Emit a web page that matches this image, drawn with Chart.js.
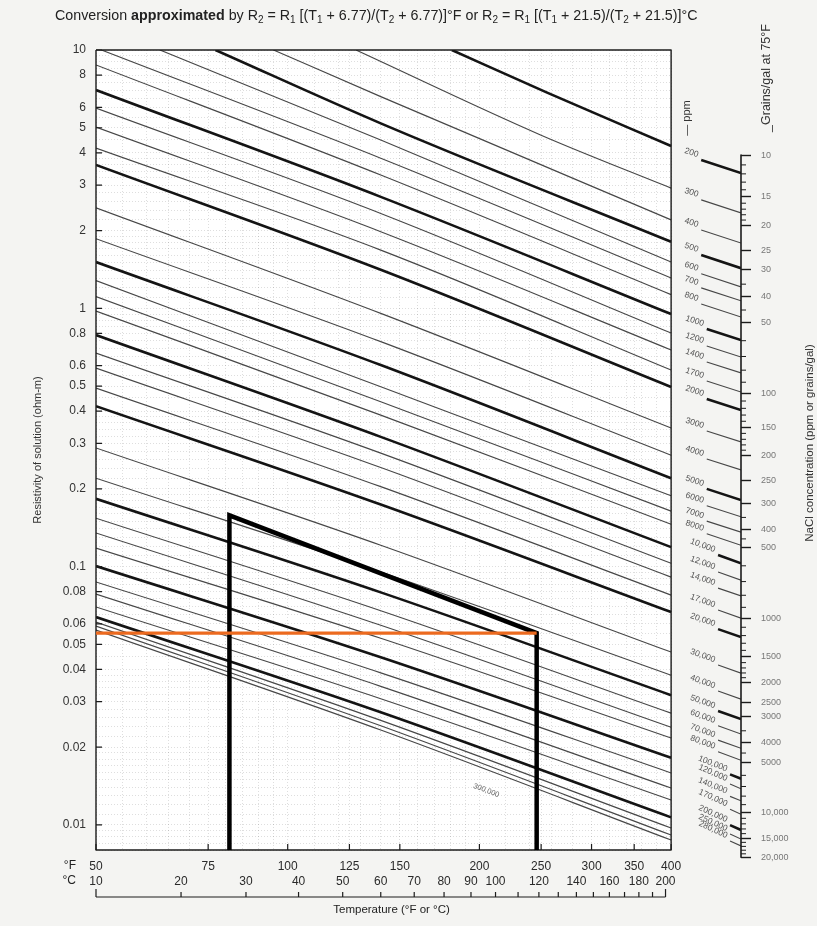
<!DOCTYPE html>
<html>
<head>
<meta charset="utf-8">
<title>Resistivity of NaCl solutions</title>
<script src="https://cdn.jsdelivr.net/npm/chart.js@4.4.1/dist/chart.umd.min.js"></script>
<style>
  html, body { margin: 0; padding: 0; background: #f4f4f2; }
  canvas { display: block; }
</style>
</head>
<body>
<canvas id="chart" width="817" height="926"></canvas>
<script>
// axis ranges: temperature in °F (x), resistivity in ohm-m (y)
const T_MIN = 50;
const T_FRAME = 400;
const T_NOMO = 515;   // x position of the concentration scale on the right
const R_MIN = 0.008;
const R_MAX = 10;

const F_TICKS = [50, 75, 100, 125, 150, 200, 250, 300, 350, 400];
const F_GRID = [55, 60, 65, 70, 80, 85, 90, 95, 110, 120, 130, 140, 160, 170, 180, 190, 220, 240, 260, 280, 320, 340, 360, 380];
const C_LABELS = [10, 20, 30, 40, 50, 60, 70, 80, 90, 100, 120, 140, 160, 180, 200];
const C_MARKS = [10, 20, 30, 40, 50, 60, 70, 80, 90, 100, 110, 120, 130, 140, 150, 160, 170, 180, 190, 200];
const R_TICKS = [10, 8, 6, 5, 4, 3, 2, 1, 0.8, 0.6, 0.5, 0.4, 0.3, 0.2, 0.1, 0.08, 0.06, 0.05, 0.04, 0.03, 0.02, 0.01];
const R_GRID_MANTISSA = [1, 1.1, 1.2, 1.3, 1.4, 1.5, 1.6, 1.7, 1.8, 1.9, 2, 2.2, 2.4, 2.6, 2.8, 3, 3.2, 3.4, 3.6, 3.8, 4, 4.5, 5, 5.5, 6, 6.5, 7, 7.5, 8, 8.5, 9, 9.5];

// NaCl concentration lines (ppm)
const ppmLabels = ['200', '300', '400', '500', '600', '700', '800', '1000', '1200', '1400', '1700', '2000',
  '3000', '4000', '5000', '6000', '7000', '8000', '10,000', '12,000', '14,000', '17,000', '20,000',
  '30,000', '40,000', '50,000', '60,000', '70,000', '80,000', '100,000', '120,000', '140,000',
  '170,000', '200,000', '250,000', '280,000', '300,000'];
const boldLines = ['200', '500', '1000', '2000', '5000', '10,000', '20,000', '50,000', '100,000', '200,000'];

// each line read at three points: start (left edge or top edge), middle, end (400 °F)
const lineStartT = [181, 128, 95, 77, 63, 51, 50, 50, 50, 50, 50, 50, 50, 50, 50, 50, 50, 50, 50, 50, 50, 50, 50,
  50, 50, 50, 50, 50, 50, 50, 50, 50, 50, 50, 50, 50, 50];
const lineStartR = [10, 10, 10, 10, 10, 10, 8.75, 7.00, 5.96, 5.03, 4.17, 3.59, 2.45, 1.86, 1.51, 1.28, 1.11, 0.976,
  0.788, 0.671, 0.587, 0.491, 0.418, 0.288, 0.220, 0.183, 0.154, 0.135, 0.118, 0.1005, 0.0872, 0.0783,
  0.0698, 0.0638, 0.0610, 0.0589, 0.0568];
const lineMidT = [256, 250, 140, 140, 140, 140, 140, 140, 140, 140, 140, 140, 140, 140, 140, 140, 140, 140, 140,
  140, 140, 140, 140, 140, 140, 140, 140, 140, 140, 140, 140, 140, 140, 140, 140, 140, 140];
const lineMidR = [6.82, 4.68, 6.60, 5.20, 4.48, 3.81, 3.28, 2.70, 2.33, 1.98, 1.68, 1.41, 0.956, 0.743, 0.603, 0.497,
  0.435, 0.386, 0.318, 0.275, 0.242, 0.204, 0.174, 0.121, 0.0954, 0.0795, 0.0675, 0.0593, 0.0528, 0.0446,
  0.0388, 0.0344, 0.0308, 0.0273, 0.0254, 0.0242, 0.0233];
const lineEndT = 400;
const lineEndR = [4.25, 2.92, 2.20, 1.81, 1.51, 1.31, 1.13, 0.950, 0.802, 0.690, 0.577, 0.496, 0.344, 0.270, 0.220,
  0.188, 0.164, 0.146, 0.119, 0.103, 0.0911, 0.0776, 0.0667, 0.0467, 0.0380, 0.0318, 0.0271, 0.0239, 0.0217,
  0.0182, 0.0159, 0.0139, 0.0125, 0.0107, 0.00973, 0.00914, 0.00874];

// short ppm markers running into the concentration scale (200 ... 280,000)
const nomoStartT = [446, 446, 446, 446, 446, 446, 446, 455, 455, 455, 455, 455, 455, 455, 455, 455, 455, 455,
  474, 474, 474, 474, 474, 474, 474, 474, 474, 474, 474, 495, 495, 495, 495, 495, 495, 495];
const nomoStartR = [3.75, 2.63, 2.01, 1.61, 1.36, 1.20, 1.04, 0.832, 0.715, 0.620, 0.523, 0.446, 0.335, 0.261, 0.200,
  0.172, 0.150, 0.134, 0.111, 0.0953, 0.0826, 0.0679, 0.0573, 0.0416, 0.0330, 0.0276, 0.0242, 0.0213, 0.0192,
  0.0157, 0.0144, 0.0129, 0.0115, 0.00999, 0.00922, 0.00867];
const nomoEndR = [3.34, 2.34, 1.79, 1.43, 1.21, 1.07, 0.925, 0.754, 0.648, 0.562, 0.474, 0.404, 0.304, 0.237, 0.181,
  0.156, 0.136, 0.121, 0.103, 0.0887, 0.0770, 0.0632, 0.0534, 0.0387, 0.0307, 0.0257, 0.0225, 0.0198, 0.0178,
  0.0151, 0.0138, 0.0124, 0.0110, 0.00956, 0.00882, 0.00829];

// grains/gal scale: labelled ticks and where they sit on the resistivity axis
const grainsLabels = ['10', '15', '20', '25', '30', '40', '50', '100', '150', '200', '250', '300', '400', '500',
  '1000', '1500', '2000', '2500', '3000', '4000', '5000', '10,000', '15,000', '20,000'];
const grainsValue = [10, 15, 20, 25, 30, 40, 50, 100, 150, 200, 250, 300, 400, 500, 1000, 1500, 2000, 2500, 3000,
  4000, 5000, 10000, 15000, 20000];
const grainsR = [3.92, 2.70, 2.10, 1.68, 1.41, 1.11, 0.885, 0.470, 0.347, 0.270, 0.216, 0.176, 0.139, 0.119,
  0.0632, 0.0447, 0.0357, 0.0299, 0.0262, 0.0208, 0.0175, 0.0112, 0.0089, 0.0075];
const grainsMinor = [11, 12, 13, 14, 16, 17, 18, 19, 35, 45, 60, 70, 80, 90, 110, 120, 130, 140, 160, 170, 180, 190,
  350, 450, 600, 700, 800, 900, 1100, 1200, 1300, 1400, 1600, 1700, 1800, 1900, 3500, 4500, 6000, 7000, 8000,
  9000, 11000, 12000, 13000, 14000, 16000, 17000, 18000, 19000];

// worked example drawn on top
const exampleT = [81, 81, 246, 246];
const exampleR = [R_MIN, 0.158, 0.0553, R_MIN];
const orangeT = [50, 246];
const orangeR = [0.0553, 0.0553];
const innerLabel = { text: '300,000', t: 205, r: 0.0136 };

const FONT = "'Liberation Sans', Arial, Helvetica, sans-serif";
const PAGE_BG = '#f4f4f2';
const TITLE_WIDTH = 643;
Chart.defaults.font.family = FONT;

const cToF = c => c * 9 / 5 + 32;
const xTickValues = [...F_TICKS, ...F_GRID].sort((a, b) => a - b);
const yTickValues = [];
for (let d = -3; d <= 0; d++) {
  R_GRID_MANTISSA.forEach(m => {
    const v = Number((m * Math.pow(10, d)).toPrecision(4));
    if (v >= R_MIN && v < R_MAX) yTickValues.push(v);
  });
}
yTickValues.push(R_MAX);

// position of an unlabelled grains/gal tick between two labelled ones (log-log)
function grainsToR(g) {
  for (let i = 0; i < grainsValue.length - 1; i++) {
    const g0 = grainsValue[i], g1 = grainsValue[i + 1];
    if (g >= g0 && g <= g1) {
      const f = Math.log(g / g0) / Math.log(g1 / g0);
      return Math.exp(Math.log(grainsR[i]) + f * Math.log(grainsR[i + 1] / grainsR[i]));
    }
  }
  return null;
}

const isBold = lab => boldLines.includes(lab);

const curveSets = ppmLabels.map((lab, i) => ({
  label: lab + ' ppm',
  data: [
    { x: lineStartT[i], y: lineStartR[i] },
    { x: lineMidT[i], y: lineMidR[i] },
    { x: lineEndT, y: lineEndR[i] }
  ],
  borderColor: isBold(lab) ? '#141414' : '#474747',
  borderWidth: isBold(lab) ? 2.6 : 1.15,
  cubicInterpolationMode: 'monotone',
  order: 5
}));

function nomoData(bold) {
  const out = [];
  nomoEndR.forEach((r, i) => {
    if (isBold(ppmLabels[i]) !== bold) return;
    out.push({ x: nomoStartT[i], y: nomoStartR[i] }, { x: T_NOMO, y: r }, { x: T_NOMO, y: null });
  });
  return out;
}

const datasets = [
  ...curveSets,
  { label: 'ppm markers', data: nomoData(false), borderColor: '#474747', borderWidth: 1.15, order: 4 },
  { label: 'ppm markers bold', data: nomoData(true), borderColor: '#141414', borderWidth: 2.6, order: 4 },
  {
    label: 'grains scale',
    data: [{ x: T_NOMO, y: grainsR[0] }, { x: T_NOMO, y: grainsR[grainsR.length - 1] }],
    borderColor: '#1c1c1c', borderWidth: 1.6, clip: false, order: 3
  },
  {
    label: 'frame',
    data: [{ x: T_MIN, y: R_MAX }, { x: T_FRAME, y: R_MAX }, { x: T_FRAME, y: R_MIN },
      { x: T_MIN, y: R_MIN }, { x: T_MIN, y: R_MAX }],
    borderColor: '#1c1c1c', borderWidth: 1.4, clip: false, order: 3
  },
  {
    label: 'example',
    data: exampleT.map((t, i) => ({ x: t, y: exampleR[i] })),
    borderColor: '#000000', borderWidth: 4.5, borderJoinStyle: 'miter', order: 1
  },
  {
    label: 'example level',
    data: orangeT.map((t, i) => ({ x: t, y: orangeR[i] })),
    borderColor: '#ec6a1f', borderWidth: 3.2, clip: false, order: 0
  }
];

function drawTitle(ctx, x, y) {
  const parts = [
    ['Conversion ', 'n'], ['approximated', 'b'], [' by R', 'n'], ['2', 's'], [' = R', 'n'], ['1', 's'],
    [' [(T', 'n'], ['1', 's'], [' + 6.77)/(T', 'n'], ['2', 's'], [' + 6.77)]°F or R', 'n'], ['2', 's'],
    [' = R', 'n'], ['1', 's'], [' [(T', 'n'], ['1', 's'], [' + 21.5)/(T', 'n'], ['2', 's'], [' + 21.5)]°C', 'n']
  ];
  const fontFor = (k, size) => k === 'b' ? `bold ${size}px ${FONT}` : k === 's' ? `${size * 0.7}px ${FONT}` : `${size}px ${FONT}`;
  // size the line so it spans the same width as the printed one
  let w = 0;
  parts.forEach(([txt, k]) => { ctx.font = fontFor(k, 12); w += ctx.measureText(txt).width; });
  const size = 12 * TITLE_WIDTH / w;
  ctx.textAlign = 'left';
  ctx.textBaseline = 'alphabetic';
  let cx = x;
  parts.forEach(([txt, k]) => {
    ctx.font = fontFor(k, size);
    ctx.fillText(txt, cx, k === 's' ? y + 3 : y);
    cx += ctx.measureText(txt).width;
  });
}

function rotatedText(ctx, text, x, y, angle, font, color, align) {
  ctx.save();
  ctx.translate(x, y);
  ctx.rotate(angle);
  ctx.font = font;
  ctx.fillStyle = color;
  ctx.textAlign = align || 'center';
  ctx.textBaseline = 'middle';
  ctx.fillText(text, 0, 0);
  ctx.restore();
}

const decorPlugin = {
  id: 'decor',
  beforeDraw(chart) {
    const { ctx, scales: { x, y } } = chart;
    ctx.save();
    ctx.fillStyle = PAGE_BG;
    ctx.fillRect(0, 0, chart.width, chart.height);
    const xl = x.getPixelForValue(T_MIN), xr = x.getPixelForValue(T_FRAME);
    const yt = y.getPixelForValue(R_MAX), yb = y.getPixelForValue(R_MIN);
    ctx.fillStyle = '#ffffff';
    ctx.fillRect(xl, yt, xr - xl, yb - yt);
    ctx.restore();
  },
  beforeDatasetsDraw(chart) {
    // keep the grid inside the 50-400 °F frame
    const { ctx, chartArea: a, scales: { x } } = chart;
    const xr = x.getPixelForValue(T_FRAME);
    ctx.save();
    ctx.fillStyle = PAGE_BG;
    ctx.fillRect(xr + 1, a.top - 2, a.right - xr - 1, a.bottom - a.top + 4);
    ctx.restore();
  },
  afterDraw(chart) {
    const { ctx, chartArea: a, scales: { x, y } } = chart;
    const xl = x.getPixelForValue(T_MIN), xr = x.getPixelForValue(T_FRAME);
    const yb = y.getPixelForValue(R_MIN);
    ctx.save();

    // tick marks on the frame
    ctx.strokeStyle = '#1c1c1c';
    ctx.lineWidth = 1.2;
    ctx.beginPath();
    F_TICKS.forEach(t => {
      const p = x.getPixelForValue(t);
      ctx.moveTo(p, yb); ctx.lineTo(p, yb - 6);
    });
    R_TICKS.forEach(r => {
      const p = y.getPixelForValue(r);
      ctx.moveTo(xl, p); ctx.lineTo(xl + 6, p);
    });
    ctx.stroke();

    // °C scale line under the labels
    const cy = yb + 47;
    ctx.beginPath();
    ctx.moveTo(x.getPixelForValue(cToF(C_MARKS[0])), cy);
    ctx.lineTo(x.getPixelForValue(cToF(C_MARKS[C_MARKS.length - 1])), cy);
    C_MARKS.forEach((c, i) => {
      const p = x.getPixelForValue(cToF(c));
      const h = (i === 0 || i === C_MARKS.length - 1) ? 8 : 5;
      ctx.moveTo(p, cy); ctx.lineTo(p, cy - h);
    });
    ctx.stroke();

    // unlabelled ticks of the grains/gal scale
    ctx.lineWidth = 1;
    ctx.beginPath();
    grainsMinor.forEach(g => {
      const p = y.getPixelForValue(grainsToR(g));
      ctx.moveTo(a.right, p); ctx.lineTo(a.right + 5, p);
    });
    ctx.stroke();

    // ppm labels beside the markers
    nomoEndR.forEach((r, i) => {
      const sx = x.getPixelForValue(nomoStartT[i]), sy = y.getPixelForValue(nomoStartR[i]);
      const ex = x.getPixelForValue(T_NOMO), ey = y.getPixelForValue(r);
      const ang = Math.atan2(ey - sy, ex - sx);
      rotatedText(ctx, ppmLabels[i], sx - 3, sy - 5, ang, `8.5px ${FONT}`, '#555555', 'right');
    });
    rotatedText(ctx, innerLabel.text, x.getPixelForValue(innerLabel.t), y.getPixelForValue(innerLabel.r),
      0.36, `7.5px ${FONT}`, '#666666');

    // titles and axis captions
    ctx.fillStyle = '#222222';
    drawTitle(ctx, 55, 20);
    ctx.font = `12px ${FONT}`;
    ctx.textAlign = 'right';
    ctx.textBaseline = 'middle';
    ctx.fillText('°F', xl - 20, yb + 16);
    ctx.fillText('°C', xl - 20, yb + 31);
    ctx.textAlign = 'center';
    ctx.font = `11.5px ${FONT}`;
    ctx.fillText('Temperature (°F or °C)', (xl + xr) / 2 + 8, yb + 60);

    rotatedText(ctx, 'Resistivity of solution (ohm-m)', 38, (a.top + a.bottom) / 2, -Math.PI / 2, `11px ${FONT}`, '#333333');
    rotatedText(ctx, '— ppm', xr + 16, 118, -Math.PI / 2, `11px ${FONT}`, '#333333');
    rotatedText(ctx, '_Grains/gal at 75°F', a.right + 26, 78, -Math.PI / 2, `12.5px ${FONT}`, '#333333');
    rotatedText(ctx, 'NaCl concentration (ppm or grains/gal)', a.right + 69, 443, -Math.PI / 2, `11.5px ${FONT}`, '#333333');

    ctx.restore();
  }
};

new Chart(document.getElementById('chart'), {
  type: 'line',
  data: { datasets },
  options: {
    responsive: false,
    animation: false,
    devicePixelRatio: 1,
    layout: { padding: { top: 50, left: 0, right: 0, bottom: 0 } },
    elements: { point: { radius: 0 }, line: { borderCapStyle: 'butt', borderJoinStyle: 'round' } },
    plugins: { legend: { display: false }, tooltip: { enabled: false }, title: { display: false } },
    scales: {
      x: {
        type: 'logarithmic', position: 'bottom', min: T_MIN, max: T_NOMO,
        afterBuildTicks: s => { s.ticks = xTickValues.map(v => ({ value: v })); },
        afterFit: s => { s.height = 22; },
        grid: { color: 'rgba(0,0,0,0.13)', lineWidth: 1, drawTicks: false },
        border: { display: false, dash: [1, 2] },
        ticks: {
          autoSkip: false, maxRotation: 0, padding: 9, color: '#2a2a2a', font: { size: 12 },
          callback: v => F_TICKS.includes(v) ? String(v) : ''
        }
      },
      x2: {
        type: 'logarithmic', position: 'bottom', min: T_MIN, max: T_NOMO,
        afterBuildTicks: s => { s.ticks = C_LABELS.map(c => ({ value: cToF(c) })); },
        afterFit: s => { s.height = 54; },
        grid: { display: false, drawOnChartArea: false, drawTicks: false },
        border: { display: false },
        ticks: {
          autoSkip: false, maxRotation: 0, padding: 2, color: '#2a2a2a', font: { size: 12 },
          callback: (v, i) => String(C_LABELS[i])
        }
      },
      y: {
        type: 'logarithmic', position: 'left', min: R_MIN, max: R_MAX,
        afterBuildTicks: s => { s.ticks = yTickValues.map(v => ({ value: v })); },
        afterFit: s => { s.width = 96; },
        grid: { color: 'rgba(0,0,0,0.13)', lineWidth: 1, drawTicks: false },
        border: { display: false, dash: [1, 2] },
        ticks: {
          autoSkip: false, padding: 10, color: '#333333', font: { size: 12 },
          callback: v => {
            const hit = R_TICKS.find(r => Math.abs(r - v) / r < 1e-6);
            return hit === undefined ? '' : String(hit);
          }
        }
      },
      y2: {
        type: 'logarithmic', position: 'right', min: R_MIN, max: R_MAX,
        afterBuildTicks: s => { s.ticks = grainsR.map(v => ({ value: v })); },
        afterFit: s => { s.width = 76; },
        grid: { drawOnChartArea: false, drawTicks: true, tickLength: 10, tickColor: '#1c1c1c', tickWidth: 1.4 },
        border: { display: false },
        ticks: {
          autoSkip: false, padding: 10, color: '#777777', font: { size: 9 },
          callback: (v, i) => grainsLabels[i]
        }
      }
    }
  },
  plugins: [decorPlugin]
});
</script>
</body>
</html>
